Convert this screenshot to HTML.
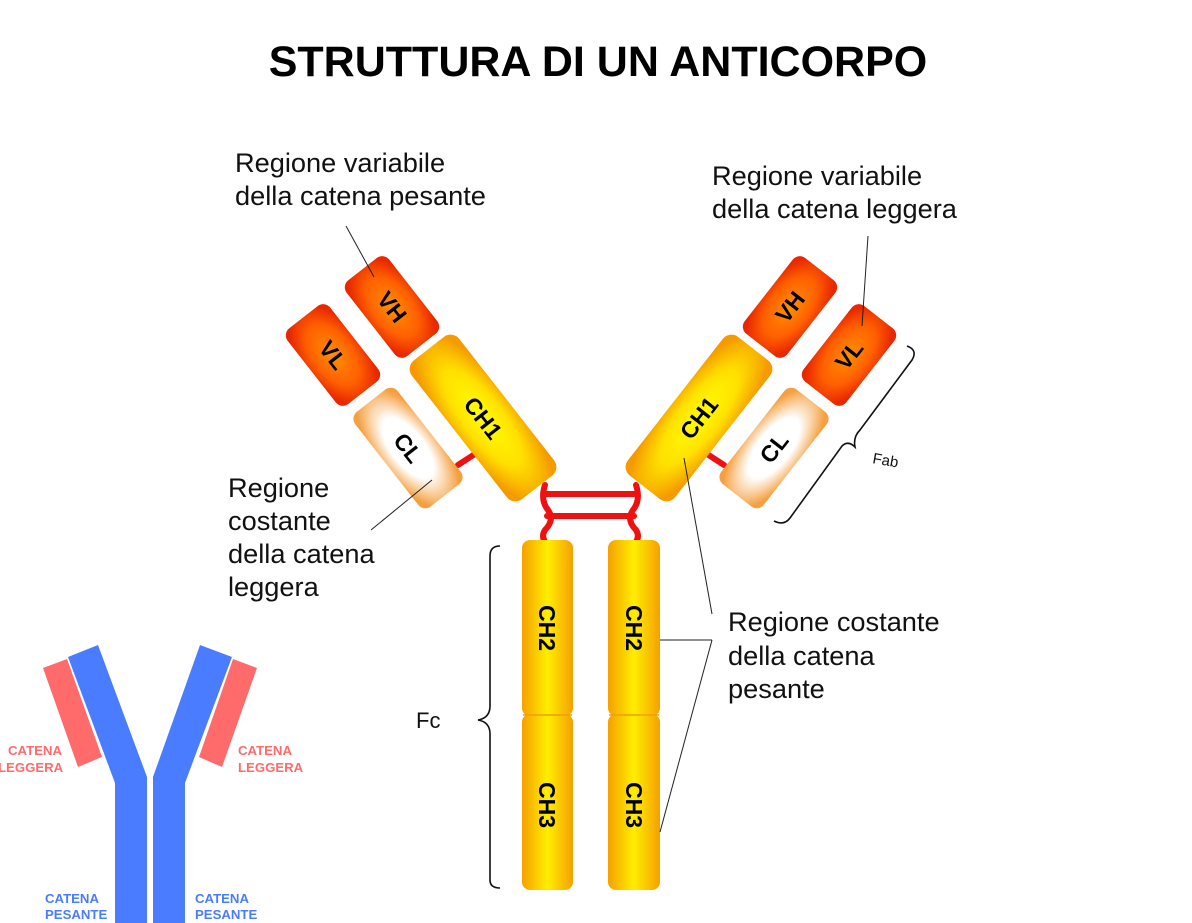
<!DOCTYPE html>
<html><head><meta charset="utf-8"><style>
html,body{margin:0;padding:0;background:#fff;}
svg{display:block;font-family:"Liberation Sans",Arial,sans-serif;}
</style></head><body>
<svg width="1192" height="923" viewBox="0 0 1192 923" xmlns="http://www.w3.org/2000/svg">
<defs>
<radialGradient id="y" cx="50%" cy="50%" r="60%"><stop offset="0" stop-color="#ffff00"/><stop offset="0.55" stop-color="#ffe000"/><stop offset="1" stop-color="#f59a00"/></radialGradient>
<linearGradient id="yl" x1="0" x2="1" y1="0" y2="0"><stop offset="0" stop-color="#f5a000"/><stop offset="0.5" stop-color="#ffee00"/><stop offset="1" stop-color="#f5a000"/></linearGradient>
<radialGradient id="r" cx="50%" cy="50%" r="60%"><stop offset="0" stop-color="#ff9000"/><stop offset="0.6" stop-color="#ff6000"/><stop offset="1" stop-color="#e82800"/></radialGradient>
<radialGradient id="w" cx="50%" cy="50%" r="60%"><stop offset="0" stop-color="#ffffff"/><stop offset="0.5" stop-color="#ffffff"/><stop offset="1" stop-color="#f5a040"/></radialGradient>
</defs>
<text x="598" y="76" text-anchor="middle" font-size="43" font-weight="bold">STRUTTURA DI UN ANTICORPO</text>

<!-- hinge -->
<g stroke="#ee1111" stroke-width="6" fill="none" stroke-linecap="round">
<path d="M545 485 Q540 500 548 510 Q555 520 545 530 Q540 538 548 545"/>
<path d="M636 485 Q641 500 633 510 Q626 520 636 530 Q641 538 633 545"/>
<line x1="545" y1="494" x2="636" y2="494"/>
<line x1="547" y1="516" x2="634" y2="516"/>
<line x1="458" y1="465" x2="478" y2="452"/>
<line x1="724" y1="465" x2="704" y2="452"/>
</g>

<!-- left arm -->
<g transform="translate(392,307) rotate(-38)"><rect x="-27" y="-48" width="54" height="96" rx="9" fill="url(#r)"/><text transform="rotate(90)" text-anchor="middle" y="8" font-size="23" font-weight="bold">VH</text></g>
<g transform="translate(483,418) rotate(-38)"><rect x="-30" y="-88" width="60" height="176" rx="11" fill="url(#y)"/><text transform="rotate(90)" text-anchor="middle" y="8" font-size="23" font-weight="bold">CH1</text></g>
<g transform="translate(333,355) rotate(-38)"><rect x="-27" y="-48" width="54" height="96" rx="9" fill="url(#r)"/><text transform="rotate(90)" text-anchor="middle" y="8" font-size="23" font-weight="bold">VL</text></g>
<g transform="translate(408,448) rotate(-38)"><rect x="-27" y="-60" width="54" height="120" rx="9" fill="url(#w)"/><text transform="rotate(90)" text-anchor="middle" y="8" font-size="23" font-weight="bold">CL</text></g>

<!-- right arm -->
<g transform="translate(790,307) rotate(38)"><rect x="-27" y="-48" width="54" height="96" rx="9" fill="url(#r)"/><text transform="rotate(-90)" text-anchor="middle" y="8" font-size="23" font-weight="bold">VH</text></g>
<g transform="translate(699,418) rotate(38)"><rect x="-30" y="-88" width="60" height="176" rx="11" fill="url(#y)"/><text transform="rotate(-90)" text-anchor="middle" y="8" font-size="23" font-weight="bold">CH1</text></g>
<g transform="translate(849,355) rotate(38)"><rect x="-27" y="-48" width="54" height="96" rx="9" fill="url(#r)"/><text transform="rotate(-90)" text-anchor="middle" y="8" font-size="23" font-weight="bold">VL</text></g>
<g transform="translate(774,448) rotate(38)"><rect x="-27" y="-60" width="54" height="120" rx="9" fill="url(#w)"/><text transform="rotate(-90)" text-anchor="middle" y="8" font-size="23" font-weight="bold">CL</text></g>

<!-- stem -->
<g fill="url(#yl)">
<rect x="522" y="540" width="51" height="176" rx="8"/>
<rect x="522" y="714" width="51" height="176" rx="8"/>
<rect x="608" y="540" width="52" height="176" rx="8"/>
<rect x="608" y="714" width="52" height="176" rx="8"/>
</g>
<g stroke="#f0a000" stroke-width="1.5" fill="none"><line x1="523" y1="715" x2="572" y2="715"/><line x1="609" y1="715" x2="659" y2="715"/></g>
<g font-size="23" font-weight="bold" text-anchor="middle">
<text transform="translate(547,628) rotate(90)" y="8">CH2</text>
<text transform="translate(547,805) rotate(90)" y="8">CH3</text>
<text transform="translate(634,628) rotate(90)" y="8">CH2</text>
<text transform="translate(634,805) rotate(90)" y="8">CH3</text>
</g>

<!-- leader lines -->
<g stroke="#222" stroke-width="1" fill="none">
<line x1="346" y1="226" x2="374" y2="277"/>
<line x1="868" y1="236" x2="862" y2="326"/>
<line x1="371" y1="530" x2="432" y2="480"/>
<line x1="684" y1="458" x2="712" y2="614"/>
<line x1="660" y1="640" x2="712" y2="640"/>
<line x1="660" y1="832" x2="712" y2="640"/>
</g>
<!-- braces -->
<g stroke="#111" stroke-width="1.6" fill="none">
<path d="M500 546 Q490 546 490 556 L490 706 Q490 718 478 720 Q490 722 490 734 L490 880 Q490 888 500 888"/>
<path d="M907 346 Q918 350 912 360 L860 430 Q853 437 855 447 Q848 440 842 446 L790 518 Q784 526 774 521"/>
</g>

<g font-size="27.2" fill="#111">
<text x="235" y="172">Regione variabile</text>
<text x="235" y="205">della catena pesante</text>
<text x="712" y="185">Regione variabile</text>
<text x="712" y="218">della catena leggera</text>
<text x="228" y="497">Regione</text>
<text x="228" y="530">costante</text>
<text x="228" y="563">della catena</text>
<text x="228" y="596">leggera</text>
<text x="728" y="631">Regione costante</text>
<text x="728" y="665">della catena</text>
<text x="728" y="698">pesante</text>
<text x="416" y="728" font-size="22">Fc</text>
</g>
<text x="872" y="463" font-size="15" fill="#111" transform="rotate(10 872 463)">Fab</text>

<!-- schematic -->
<polygon points="68,657 98,645 147,777 147,923 115,923 115,783" fill="#4a7cff"/>
<polygon points="232,657 200,645 153,777 153,923 185,923 185,783" fill="#4a7cff"/>
<polygon points="43,668 67,659 102,757 78,767" fill="#ff6b6b"/>
<polygon points="257,668 233,659 199,757 222,767" fill="#ff6b6b"/>
<g font-size="13.2" font-weight="bold">
<text x="8" y="755" fill="#ff6b6b">CATENA</text>
<text x="-2" y="772" fill="#ff6b6b">LEGGERA</text>
<text x="238" y="755" fill="#ff6b6b">CATENA</text>
<text x="238" y="772" fill="#ff6b6b">LEGGERA</text>
<text x="45" y="903" fill="#4a7cff">CATENA</text>
<text x="45" y="919" fill="#4a7cff">PESANTE</text>
<text x="195" y="903" fill="#4a7cff">CATENA</text>
<text x="195" y="919" fill="#4a7cff">PESANTE</text>
</g>
</svg>
</body></html>
